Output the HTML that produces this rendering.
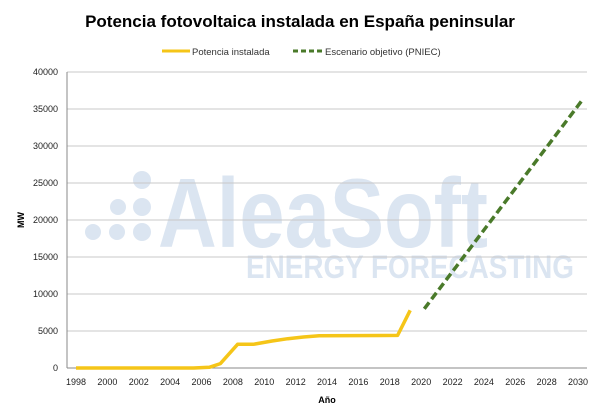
<!DOCTYPE html>
<html><head><style>body{margin:0;background:#fff}svg{display:block;font-family:"Liberation Sans",sans-serif}</style></head><body>
<svg width="600" height="418" xmlns="http://www.w3.org/2000/svg">
<text x="300" y="27" font-size="17" font-weight="bold" text-anchor="middle" fill="#000">Potencia fotovoltaica instalada en España peninsular</text>
<line x1="162" y1="51" x2="190" y2="51" stroke="#f5c518" stroke-width="3"/>
<text x="192" y="55" font-size="9.5" fill="#333">Potencia instalada</text>
<line x1="293" y1="51" x2="323" y2="51" stroke="#4a7a2a" stroke-width="3" stroke-dasharray="5,3"/>
<text x="325" y="55" font-size="9.5" fill="#333">Escenario objetivo (PNIEC)</text>
<g fill="#dbe5f1">
<circle cx="142" cy="180" r="9"/><circle cx="142" cy="207" r="9"/><circle cx="118" cy="207" r="8"/><circle cx="117" cy="232" r="8"/><circle cx="142" cy="232" r="9"/><circle cx="93" cy="232" r="8"/>
</g>
<text x="158" y="247" font-size="98" font-weight="bold" fill="#dbe5f1" textLength="330" lengthAdjust="spacingAndGlyphs">AleaSoft</text>
<text x="246" y="278" font-size="32" font-weight="bold" fill="#dbe5f1" textLength="328" lengthAdjust="spacingAndGlyphs">ENERGY FORECASTING</text>
<g stroke="#c8c8c8" stroke-width="1">
<line x1="67" y1="72" x2="587" y2="72"/><line x1="67" y1="109" x2="587" y2="109"/><line x1="67" y1="146" x2="587" y2="146"/><line x1="67" y1="183" x2="587" y2="183"/><line x1="67" y1="220" x2="587" y2="220"/><line x1="67" y1="257" x2="587" y2="257"/><line x1="67" y1="294" x2="587" y2="294"/><line x1="67" y1="331" x2="587" y2="331"/>
</g>
<line x1="67" y1="368" x2="587" y2="368" stroke="#888"/>
<line x1="67" y1="72" x2="67" y2="368" stroke="#888"/>
<g font-size="9" fill="#222" text-anchor="end">
<text x="58" y="75">40000</text><text x="58" y="112">35000</text><text x="58" y="149">30000</text><text x="58" y="186">25000</text><text x="58" y="223">20000</text><text x="58" y="260">15000</text><text x="58" y="297">10000</text><text x="58" y="334">5000</text><text x="58" y="371">0</text>
</g>
<g font-size="9" fill="#222" text-anchor="middle">
<text x="76" y="385">1998</text><text x="107.4" y="385">2000</text><text x="138.8" y="385">2002</text><text x="170.1" y="385">2004</text><text x="201.5" y="385">2006</text><text x="232.9" y="385">2008</text><text x="264.3" y="385">2010</text><text x="295.7" y="385">2012</text><text x="327" y="385">2014</text><text x="358.4" y="385">2016</text><text x="389.8" y="385">2018</text><text x="421.2" y="385">2020</text><text x="452.6" y="385">2022</text><text x="483.9" y="385">2024</text><text x="515.3" y="385">2026</text><text x="546.7" y="385">2028</text><text x="578" y="385">2030</text>
</g>
<text x="327" y="403" font-size="9" font-weight="bold" text-anchor="middle">Año</text>
<text transform="translate(24,220) rotate(-90)" font-size="9" font-weight="bold" text-anchor="middle">MW</text>
<polyline fill="none" stroke="#f5c518" stroke-width="3.5" stroke-linejoin="round" points="76,368 193.7,368 209.4,367.3 220.4,363.6 237.6,344.3 253.3,344.3 272.1,341 287.8,338.7 303.5,337 319.2,335.8 397.6,335.4 410.2,310.3"/>
<line x1="424.3" y1="308.8" x2="582.8" y2="99.4" stroke="#4a7a2a" stroke-width="3.5" stroke-dasharray="8,4"/>
</svg>
</body></html>
